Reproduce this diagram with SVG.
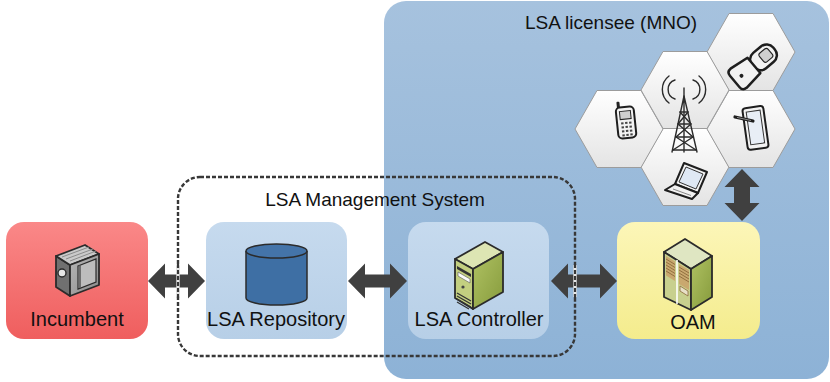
<svg xmlns="http://www.w3.org/2000/svg" width="830" height="382" viewBox="0 0 830 382">
  <defs>
    <linearGradient id="gMno" x1="0" y1="0" x2="0" y2="1">
      <stop offset="0" stop-color="#a6c2de"/>
      <stop offset="1" stop-color="#8db2d6"/>
    </linearGradient>
    <linearGradient id="gRed" x1="0" y1="0" x2="0" y2="1">
      <stop offset="0" stop-color="#fa8888"/>
      <stop offset="1" stop-color="#ef5e5e"/>
    </linearGradient>
    <linearGradient id="gBlue" x1="0" y1="0" x2="0" y2="1">
      <stop offset="0" stop-color="#c6daee"/>
      <stop offset="1" stop-color="#b7cfe7"/>
    </linearGradient>
    <linearGradient id="gYellow" x1="0" y1="0" x2="0" y2="1">
      <stop offset="0" stop-color="#fcf6b8"/>
      <stop offset="1" stop-color="#f4ec8d"/>
    </linearGradient>
    <linearGradient id="gHex" x1="0" y1="0" x2="0" y2="1">
      <stop offset="0" stop-color="#ffffff"/>
      <stop offset="1" stop-color="#e4e4e4"/>
    </linearGradient>
    <linearGradient id="gGreenSide" x1="0" y1="0" x2="1" y2="1">
      <stop offset="0" stop-color="#b0c263"/>
      <stop offset="1" stop-color="#869b3c"/>
    </linearGradient>
    <linearGradient id="gGray" x1="0" y1="0" x2="1" y2="1">
      <stop offset="0" stop-color="#b8b8b8"/>
      <stop offset="1" stop-color="#8a8a8a"/>
    </linearGradient>
    <polygon id="hex" points="-44,0 -22,-38.5 22,-38.5 44,0 22,38.5 -22,38.5"/>
  </defs>
  <style>
    .lbl { font-family: "Liberation Sans", Arial, sans-serif; font-size: 20px; fill: #111; text-anchor: middle; }
    .title { font-family: "Liberation Sans", Arial, sans-serif; font-size: 19px; fill: #111; text-anchor: middle; }
    .cell { fill: url(#gHex); stroke: #9c9c9c; stroke-width: 1; }
    .arrow { fill: #404040; }
    .ol { stroke: #2b2b2b; stroke-width: 1.8; stroke-linejoin: round; }
    .ln { fill: none; stroke: #2b2b2b; stroke-width: 1.4; stroke-linecap: round; }
    .dev { fill: #f2f2f2; stroke: #1e1e1e; stroke-width: 2; stroke-linejoin: round; }
  </style>

  <!-- Licensee (MNO) domain -->
  <g id="mno">
    <rect x="384" y="1" width="445" height="378" rx="22" fill="url(#gMno)"/>
    <text class="title" x="611" y="29">LSA licensee (MNO)</text>
  </g>

  <!-- Radio access cells -->
  <g id="cells">
    <use href="#hex" class="cell" x="685" y="167"/>
    <use href="#hex" class="cell" x="619" y="129"/>
    <use href="#hex" class="cell" x="751" y="129"/>
    <use href="#hex" class="cell" x="751" y="52"/>
    <use href="#hex" class="cell" x="685" y="90"/>

    <!-- base station tower -->
    <g id="tower">
      <path class="ln" d="M675,80 A10,10 0 0 0 675,99"/>
      <path class="ln" d="M669,76 A17,17 0 0 0 669,103"/>
      <path class="ln" d="M693,80 A10,10 0 0 1 693,99"/>
      <path class="ln" d="M699,76 A17,17 0 0 1 699,103"/>
      <line class="ln" x1="684" y1="88" x2="684" y2="98" stroke-width="2"/>
      <path class="ln" d="M684,96 L672,152 M684,96 L697,152 M684,96 L684,152"/>
      <path class="ln" d="M680,112 L688,112 M678,124 L691,124 M676,137 L693,137 M673,150 L696,150"/>
      <path class="ln" d="M680,112 L691,124 M688,112 L678,124 M678,124 L693,137 M691,124 L676,137 M676,137 L696,150 M693,137 L673,150"/>
    </g>

    <!-- candybar phone -->
    <g id="phone-bar" transform="rotate(-6 626 122)">
      <rect x="618.5" y="101" width="3" height="9" rx="1" fill="#222"/>
      <rect class="dev" x="617" y="107" width="18" height="31" rx="4"/>
      <rect x="620.5" y="111" width="11" height="8" fill="#cfcfcf" stroke="#222" stroke-width="1"/>
      <g fill="#444">
        <rect x="621" y="122" width="2.4" height="2"/><rect x="625" y="122" width="2.4" height="2"/><rect x="629" y="122" width="2.4" height="2"/>
        <rect x="621" y="126" width="2.4" height="2"/><rect x="625" y="126" width="2.4" height="2"/><rect x="629" y="126" width="2.4" height="2"/>
        <rect x="621" y="130" width="2.4" height="2"/><rect x="625" y="130" width="2.4" height="2"/><rect x="629" y="130" width="2.4" height="2"/>
        <rect x="621" y="134" width="2.4" height="2"/><rect x="625" y="134" width="2.4" height="2"/><rect x="629" y="134" width="2.4" height="2"/>
      </g>
    </g>

    <!-- flip phone -->
    <g id="phone-flip" transform="translate(752 67) rotate(50) scale(1.25)">
      <rect class="dev" x="-8" y="-23" width="16" height="22" rx="7" stroke-width="1.7"/>
      <rect x="-4.5" y="-19" width="9" height="9" rx="2" fill="#cfcfcf" stroke="#222" stroke-width="0.9"/>
      <path class="dev" stroke-width="1.7" d="M-8,-2 L8,-2 L10,14 Q10,18 6,18 L-6,18 Q-10,18 -10,14 Z"/>
      <circle cx="0" cy="11" r="1.6" fill="#222"/>
    </g>

    <!-- tablet with stylus -->
    <g id="tablet">
      <g transform="rotate(-8 755 128)">
        <rect class="dev" x="745" y="107" width="21" height="42" rx="3"/>
        <rect x="748.5" y="111" width="14" height="33" fill="#e8eef6" stroke="#333" stroke-width="1"/>
      </g>
      <line x1="735" y1="117" x2="753" y2="121" stroke="#1e1e1e" stroke-width="3.2" stroke-linecap="round"/>
      <line x1="737" y1="117.4" x2="751" y2="120.5" stroke="#8a8a8a" stroke-width="1"/>
    </g>

    <!-- laptop -->
    <g id="laptop">
      <polygon class="dev" points="684,163 707,172 698,193 675,184"/>
      <polygon points="686,167 703,174 696,189 679,182" fill="#dfe8f4" stroke="#333" stroke-width="1"/>
      <polygon class="dev" points="675,184 698,193 692,199 665,190"/>
      <line x1="673" y1="189" x2="691" y2="195.5" stroke="#888" stroke-width="1"/>
    </g>
  </g>

  <!-- LSA Management System boundary -->
  <g id="lsa-ms">
    <rect x="178" y="177" width="397" height="179" rx="22" fill="none" stroke="#383838" stroke-width="2.4" stroke-dasharray="4 2"/>
    <text class="title" x="375" y="206" font-size="19.5">LSA Management System</text>
  </g>

  <!-- Incumbent -->
  <g id="incumbent">
    <rect x="6" y="222" width="142" height="117" rx="18" fill="url(#gRed)"/>
    <polygon class="ol" points="56,256 70,265 70,296 56,287" fill="#707070"/>
    <polygon class="ol" points="56,256 85,245 99,254 70,265" fill="#cacaca"/>
    <polygon class="ol" points="70,265 99,254 99,285 70,296" fill="url(#gGray)"/>
    <path d="M62,257 L89,247 M66,259 L93,249 M70,261 L96,251" stroke="#8a8a8a" stroke-width="1"/>
    <polygon points="78,266 96,259 96,282 78,289" fill="#bdbdbd" stroke="#2b2b2b" stroke-width="1.2"/>
    <line x1="80" y1="265" x2="80" y2="288" stroke="#555" stroke-width="1.5"/>
    <circle cx="62" cy="273" r="4" fill="#e6e6e6" stroke="#2b2b2b" stroke-width="1.4"/>
    <text class="lbl" x="77" y="326">Incumbent</text>
  </g>

  <!-- LSA Repository -->
  <g id="repository">
    <rect x="206" y="222" width="141" height="117" rx="18" fill="url(#gBlue)"/>
    <path d="M246,251 L246,298 A30.5,7 0 0 0 307,298 L307,251" fill="#3e6fa4" stroke="#2b2b2b" stroke-width="1.5"/>
    <ellipse cx="276.5" cy="251" rx="30.5" ry="7" fill="#4474a9" stroke="#2b2b2b" stroke-width="1.5"/>
    <text class="lbl" x="276" y="326">LSA Repository</text>
  </g>

  <!-- LSA Controller -->
  <g id="controller">
    <rect x="408" y="222" width="141" height="117" rx="18" fill="url(#gBlue)"/>
    <polygon class="ol" points="455,259 485,242 503,252 473,269" fill="#dde5b3"/>
    <polygon class="ol" points="455,259 473,269 473,309 455,298" fill="#c3cf80"/>
    <polygon class="ol" points="473,269 503,252 503,292 473,309" fill="url(#gGreenSide)"/>
    <polygon points="457,266 471,274 471,277 457,269" fill="#333"/>
    <polygon points="458,272 470,279 470,283 458,276" fill="#fafafa" stroke="#555" stroke-width="0.6"/>
    <circle cx="463" cy="287" r="1.6" fill="#444"/>
    <path d="M457,293 L471,301 M457,296 L471,304 M457,299 L471,307 M457,302 L469,309" stroke="#333" stroke-width="1.3"/>
    <text class="lbl" x="479" y="326">LSA Controller</text>
  </g>

  <!-- OAM -->
  <g id="oam">
    <rect x="617" y="222" width="143" height="117" rx="18" fill="url(#gYellow)"/>
    <polygon class="ol" points="664,252 685,239 712,256 691,269" fill="#dfe6c2"/>
    <polygon class="ol" points="664,252 691,269 691,310 664,297" fill="#c8d08e"/>
    <polygon class="ol" points="691,269 712,256 712,297 691,310" fill="url(#gGreenSide)"/>
    <polygon points="666,256 675,261.5 675,281 666,275.5" fill="#c9a86f"/>
    <path d="M666,259 L675,264.5 M666,262 L675,267.5 M666,265 L675,270.5 M666,268 L675,273.5 M666,271 L675,276.5" stroke="#8b6a3a" stroke-width="0.9"/>
    <polygon points="679,264 689,270 689,290 679,284" fill="#c9a86f"/>
    <path d="M679,267 L689,273 M679,270 L689,276 M679,273 L689,279 M679,276 L689,282" stroke="#8b6a3a" stroke-width="0.9"/>
    <polygon points="680,286 688,291 688,296 680,291" fill="#e8e0c8" stroke="#8b6a3a" stroke-width="0.8"/>
    <line x1="677" y1="260" x2="677" y2="304" stroke="#ffffff" stroke-width="1.6"/>
    <text class="lbl" x="693" y="329">OAM</text>
  </g>

  <!-- Connectors: bidirectional interfaces -->
  <g id="connectors">
    <polygon class="arrow" points="148,281 165,263.5 165,274.5 188,274.5 188,263.5 205,281 188,298.5 188,287.5 165,287.5 165,298.5"/>
    <polygon class="arrow" points="348,281 365,263.5 365,274.5 390,274.5 390,263.5 407,281 390,298.5 390,287.5 365,287.5 365,298.5"/>
    <polygon class="arrow" points="551,281 568,263.5 568,274.5 600,274.5 600,263.5 617,281 600,298.5 600,287.5 568,287.5 568,298.5"/>
    <polygon class="arrow" points="742,169 759.5,187 750,187 750,203 759.5,203 742,221 724.5,203 734,203 734,187 724.5,187"/>
    <!-- boundary line drawn across the interface arrows -->
    <line x1="178" y1="265" x2="178" y2="297" stroke="#e8e8e8" stroke-width="3.4"/>
    <line x1="575" y1="265" x2="575" y2="297" stroke="#e8e8e8" stroke-width="3.4"/>
    <line x1="178" y1="264" x2="178" y2="298" stroke="#383838" stroke-width="2.2" stroke-dasharray="4 2"/>
    <line x1="575" y1="264" x2="575" y2="298" stroke="#383838" stroke-width="2.2" stroke-dasharray="4 2"/>
  </g>
</svg>
